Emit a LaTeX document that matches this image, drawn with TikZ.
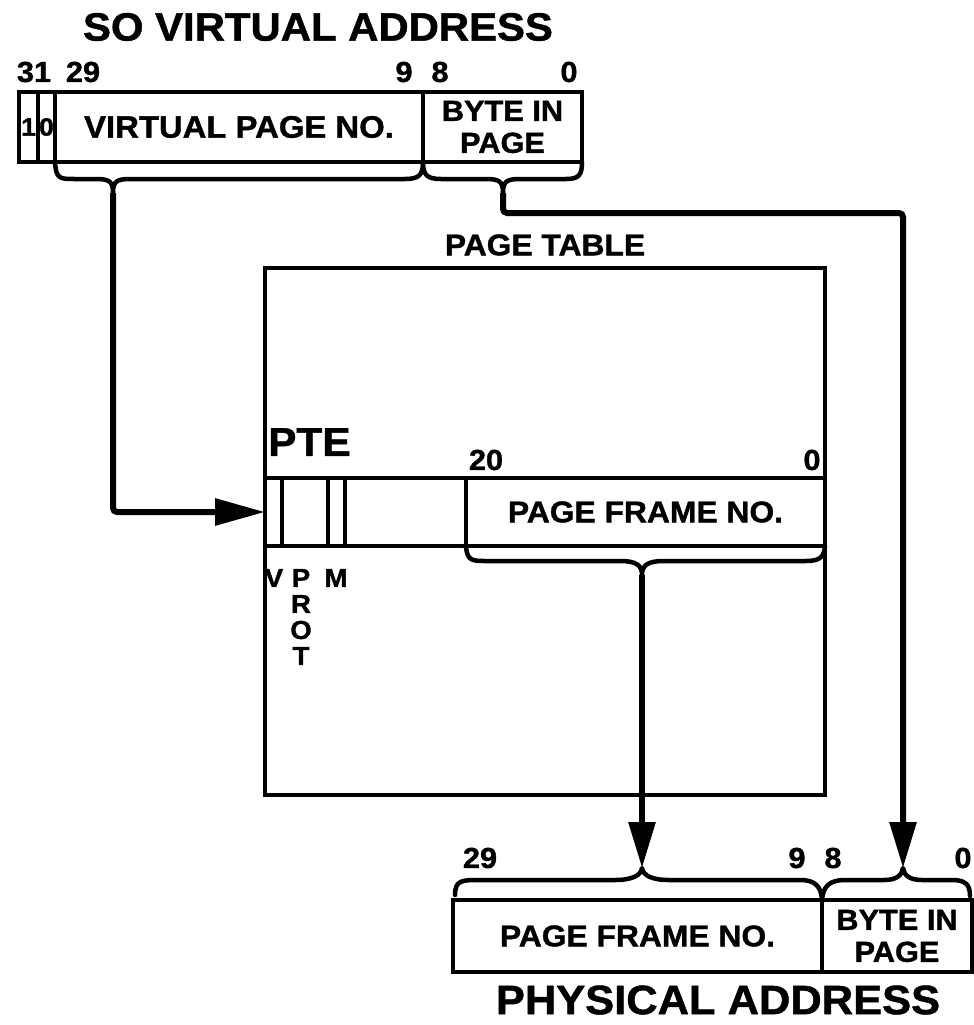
\documentclass[tikz,border=0pt]{standalone}
\usepackage{fontspec}
\newfontfamily\hv{Liberation Sans}[FakeStretch=1.06,FakeBold=1.2]
\usetikzlibrary{arrows.meta,calc}
\newcommand\fsz[2]{\fontsize{#1}{#2}\selectfont}
\begin{document}
\begin{tikzpicture}[x=1pt,y=-1pt,
  box/.style={draw, line width=3.2pt, inner sep=0pt, outer sep=0pt, align=center,
              font=\hv\bfseries\fsz{29}{32}},
  lbl/.style={inner sep=0pt, font=\hv\bfseries\fsz{29}{29}},
  small/.style={inner sep=0pt, font=\hv\bfseries\fsz{26}{26}, align=center},
  ttl/.style={inner sep=0pt, font=\hv\bfseries\fsz{39.5}{39.5}},
  conn/.style={line width=6pt, rounded corners=4pt},
  brace/.style={line width=4.5pt, line cap=round, line join=round},
  tip/.style={-{Triangle[length=46pt,width=26pt]}}]
\useasboundingbox (0,0) rectangle (974,1025);

% ---- virtual address ----
\node[ttl] (vtitle) at (318,27) {SO VIRTUAL ADDRESS};
\node[lbl] (b31) at (34,72) {31};
\node[lbl] (b29) at (83,72) {29};
\node[lbl] (b9) at (404,72) {9};
\node[lbl] (b8) at (440,72) {8};
\node[lbl] (b0) at (569,72) {0};

\node[box, minimum width=19pt, minimum height=70pt, font=\hv\bfseries\fsz{25}{25}] (c1) at (28.5,127) {1};
\node[box, minimum width=17pt, minimum height=70pt, font=\hv\bfseries\fsz{25}{25}] (c0) at (46.5,127) {0};
\node[box, minimum width=368pt, minimum height=70pt, font=\hv\bfseries\fsz{31}{31}] (vpn) at (239,127) {VIRTUAL PAGE NO.};
\node[box, minimum width=159pt, minimum height=70pt] (vbyte) at (502.5,127) {BYTE IN\\PAGE};

% braces under virtual address
\coordinate (vtip) at (113,193);
\coordinate (btip) at (503,193);
\draw[brace] (vpn.south west) .. controls (56,179) and (60,179) .. (74,179) -- (96,179)
  .. controls (110,179) and (113,182) .. (vtip)
  .. controls (113,182) and (116,179) .. (130,179) -- (405,179)
  .. controls (419,179) and (423,175) .. (vpn.south east);
\draw[brace] (vbyte.south west) .. controls (423,175) and (427,179) .. (441,179) -- (486,179)
  .. controls (500,179) and (503,182) .. (btip)
  .. controls (503,182) and (506,179) .. (520,179) -- (566,179)
  .. controls (579,179) and (582,175) .. (vbyte.south east);

% ---- page table ----
\node[ttl, font=\hv\bfseries\fsz{30}{30}] (pttitle) at (545,245) {PAGE TABLE};
\node[box, minimum width=560pt, minimum height=527pt] (pt) at (545,531.5) {};
\node[inner sep=0pt, anchor=west, font=\hv\bfseries\fsz{40}{40}] (pte) at (268,442) {PTE};
\node[lbl] (b20) at (486,460) {20};
\node[lbl] (bp0) at (812,460) {0};

\node[box, minimum width=17pt, minimum height=68pt] (pv) at (273.5,512) {};
\node[box, minimum width=46pt, minimum height=68pt] (pprot) at (305,512) {};
\node[box, minimum width=17pt, minimum height=68pt] (pm) at (336.5,512) {};
\node[box, minimum width=121pt, minimum height=68pt] (pblank) at (405.5,512) {};
\node[box, minimum width=359pt, minimum height=68pt, font=\hv\bfseries\fsz{30}{30}] (pfn) at (645.5,512) {PAGE FRAME NO.};

\node[small] (lv) at (274,578) {V};
\node[small] (lprot) at (301,617) {P\\R\\O\\T};
\node[small] (lm) at (336,578) {M};

\coordinate (ftip) at (642,575);
\draw[brace] (pfn.south west) .. controls (467,561) and (472,561) .. (487,561) -- (620,561)
  .. controls (636,561) and (642,565) .. (ftip)
  .. controls (642,565) and (648,561) .. (664,561) -- (806,561)
  .. controls (820,561) and (824,557) .. (pfn.south east);

% ---- physical address ----
\node[box, minimum width=369pt, minimum height=72pt, font=\hv\bfseries\fsz{30}{30}] (pfn2) at (637.5,936) {PAGE FRAME NO.};
\node[box, minimum width=150pt, minimum height=72pt] (pb2) at (897,936) {BYTE IN\\PAGE};
\node[ttl, font=\hv\bfseries\fsz{41}{41}] (ptitle) at (718,1000) {PHYSICAL ADDRESS};
\node[lbl] (q29) at (480,858) {29};
\node[lbl] (q9) at (797,858) {9};
\node[lbl] (q8) at (833,858) {8};
\node[lbl] (q0) at (963,858) {0};

\coordinate (ptip) at (642,868);
\coordinate (qtip) at (903,868);
\draw[brace] (455,895) .. controls (455,880) and (462,880) .. (480,880) -- (615,880)
  .. controls (633,880) and (641,875) .. (ptip)
  .. controls (643,875) and (651,880) .. (669,880) -- (800,880)
  .. controls (815,880) and (821,886) .. (pfn2.north east);
\draw[brace] (pb2.north west) .. controls (823,886) and (830,880) .. (845,880) -- (884,880)
  .. controls (897,880) and (902,875) .. (qtip)
  .. controls (904,875) and (909,880) .. (922,880) -- (952,880)
  .. controls (966,880) and (970,885) .. (970,896);

% ---- connectors ----
\draw[conn, -{Triangle[length=50pt,width=26pt]}] (vtip) |- (pv.west);
\draw[conn, tip] (btip) -- ++(0,20) -| (qtip);
\draw[conn, tip] (ftip) -- (ptip);
\end{tikzpicture}
\end{document}
